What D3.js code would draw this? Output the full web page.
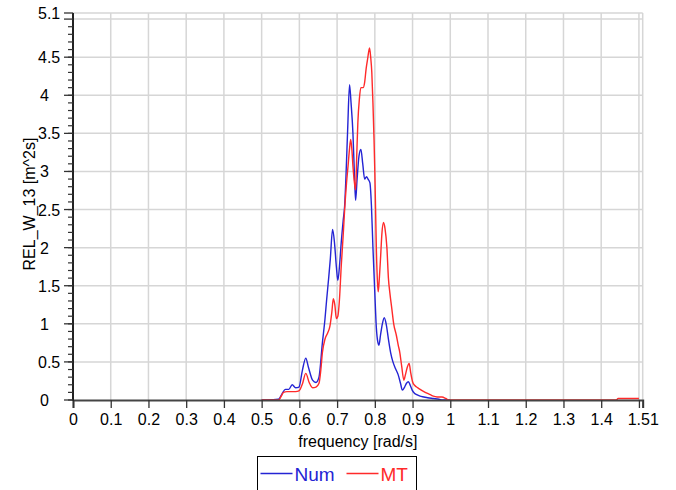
<!DOCTYPE html>
<html>
<head>
<meta charset="utf-8">
<script src="https://cdn.jsdelivr.net/npm/d3@7"></script>
<style>
  body { margin: 0; background: #fff; }
  svg { display: block; font-family: "Liberation Sans", Arial, sans-serif; }
</style>
</head>
<body>
<div class="chart"></div>
<script>
'use strict';

// Data
const numFreq = [0.50, 0.516, 0.545, 0.554, 0.563, 0.572, 0.581, 0.59, 0.599, 0.608, 0.617, 0.624, 0.635, 0.644, 0.652,
  0.661, 0.668, 0.672, 0.678, 0.682, 0.688, 0.693, 0.698, 0.702, 0.707, 0.711, 0.716, 0.72, 0.724, 0.728, 0.733, 0.737,
  0.742, 0.746, 0.749, 0.753, 0.758, 0.763, 0.768, 0.773, 0.778, 0.782, 0.787, 0.791, 0.795, 0.80, 0.804, 0.808, 0.811,
  0.815, 0.82, 0.825, 0.83, 0.836, 0.842, 0.848, 0.855, 0.862, 0.868, 0.873, 0.879, 0.884, 0.889, 0.894, 0.899, 0.905,
  0.911, 0.92, 0.93, 0.94, 0.955, 0.97, 0.98, 1.0];
const numVal = [0, 0, 0.01, 0.08, 0.14, 0.14, 0.20, 0.16, 0.17, 0.39, 0.55, 0.43, 0.26, 0.23, 0.30,
  0.75, 1.07, 1.3, 1.62, 1.85, 2.24, 2.07, 1.75, 1.57, 1.8, 2.07, 2.35, 2.55, 3.0, 3.55, 4.14, 3.9,
  3.5, 2.95, 2.62, 2.9, 3.2, 3.29, 3.1, 2.9, 2.93, 2.9, 2.85, 2.55, 2.0, 1.4, 0.95, 0.76, 0.72,
  0.85, 1.0, 1.08, 1.0, 0.8, 0.62, 0.5, 0.41, 0.33, 0.22, 0.13, 0.17, 0.22, 0.24, 0.19, 0.13, 0.09,
  0.07, 0.05, 0.04, 0.03, 0.02, 0.01, 0, 0];

const mtFreq = [0.50, 0.518, 0.545, 0.552, 0.558, 0.567, 0.58, 0.59, 0.599, 0.608, 0.617, 0.626, 0.635, 0.644, 0.652,
  0.657, 0.661, 0.668, 0.675, 0.681, 0.686, 0.69, 0.694, 0.698, 0.702, 0.706, 0.711, 0.716, 0.72, 0.725, 0.729, 0.733,
  0.736, 0.739, 0.742, 0.746, 0.749, 0.752, 0.755, 0.759, 0.763, 0.769, 0.773, 0.777, 0.781, 0.786, 0.789, 0.792, 0.795,
  0.798, 0.80, 0.802, 0.804, 0.807, 0.809, 0.812, 0.815, 0.819, 0.823, 0.827, 0.832, 0.836, 0.84, 0.845, 0.85, 0.857,
  0.862, 0.866, 0.871, 0.877, 0.881, 0.886, 0.891, 0.895, 0.9, 0.906, 0.914, 0.92, 0.93, 0.938, 0.947, 0.955, 0.965,
  0.978, 0.988, 0.995, 1.0, 1.44, 1.445, 1.5];
const mtVal = [0, 0, 0, 0.05, 0.10, 0.11, 0.11, 0.11, 0.12, 0.21, 0.35, 0.23, 0.16, 0.17, 0.22,
  0.4, 0.62, 0.8, 0.88, 0.97, 1.15, 1.33, 1.25, 1.07, 1.1, 1.3, 1.76, 2.15, 2.5, 2.85, 3.07, 3.3,
  3.42, 3.3, 3.07, 2.85, 2.76, 3.2, 3.64, 3.95, 4.1, 4.1, 4.17, 4.35, 4.48, 4.62, 4.5, 4.3, 3.9,
  3.4, 2.99, 2.5, 2.0, 1.55, 1.42, 1.6, 1.85, 2.2, 2.33, 2.25, 2.0, 1.6, 1.4, 1.2, 1.0, 0.85,
  0.72, 0.63, 0.45, 0.26, 0.33, 0.43, 0.48, 0.36, 0.24, 0.19, 0.16, 0.14, 0.11, 0.09, 0.07, 0.05, 0.04,
  0.04, 0.02, 0, 0, 0, 0.02, 0.02];

const xTicks = [0, 0.1, 0.2, 0.3, 0.4, 0.5, 0.6, 0.7, 0.8, 0.9, 1, 1.1, 1.2, 1.3, 1.4, 1.5, 1.51];
const xTickLabels = ['0', '0.1', '0.2', '0.3', '0.4', '0.5', '0.6', '0.7', '0.8', '0.9', '1', '1.1', '1.2', '1.3', '1.4', '', '1.51'];
const yTicks = [0, 0.5, 1, 1.5, 2, 2.5, 3, 3.5, 4, 4.5, 5, 5.08];
const yTickLabels = ['0', '0.5', '1', '1.5', '2', '2.5', '3', '3.5', '4', '4.5', '', '5.1'];
const seriesNames = ['Num', 'MT'];

// Layout
const w = 676;
const h = 490;
const padLeft = 73, padRight = 642.7, padTop = 13, padBottom = 400;
const blue = '#2424d4';
const red = '#ff2a2a';

const svg = d3.select('.chart')
  .append('svg')
  .attr('width', w)
  .attr('height', h);

const xScale = d3.scaleLinear().domain([0, 1.51]).range([padLeft, padRight]);
const yScale = d3.scaleLinear().domain([0, 5.08]).range([padBottom, padTop]);

// Grid
const grid = svg.append('g').attr('stroke', '#d6d6d6').attr('stroke-width', 1.5);
grid.selectAll('.gx')
  .data(xTicks.slice(1))
  .enter()
  .append('line')
  .attr('x1', d => xScale(d)).attr('x2', d => xScale(d))
  .attr('y1', padTop).attr('y2', padBottom);
grid.selectAll('.gy')
  .data(yTicks.slice(1))
  .enter()
  .append('line')
  .attr('x1', padLeft).attr('x2', padRight)
  .attr('y1', d => yScale(d)).attr('y2', d => yScale(d));

// Curves
const line = d3.line()
  .x(d => xScale(d[0]))
  .y(d => yScale(d[1]))
  .curve(d3.curveMonotoneX);

const numData = numFreq.map((f, i) => [f, numVal[i]]);
const mtData = mtFreq.map((f, i) => [f, mtVal[i]]);

svg.append('path')
  .datum(numData)
  .attr('fill', 'none')
  .attr('stroke', blue)
  .attr('stroke-width', 1.4)
  .attr('d', line);

svg.append('path')
  .datum(mtData)
  .attr('fill', 'none')
  .attr('stroke', red)
  .attr('stroke-width', 1.4)
  .attr('d', line);

// Axes
const xAxis = d3.axisBottom(xScale)
  .tickValues(xTicks)
  .tickSize(8)
  .tickFormat((d, i) => xTickLabels[i]);

const gx = svg.append('g')
  .attr('transform', `translate(0, ${padBottom})`)
  .call(xAxis);
gx.select('.domain').attr('stroke', '#444').attr('stroke-width', 2);
gx.selectAll('.tick line').attr('stroke', '#333').attr('stroke-width', 1.3);
gx.selectAll('.tick text')
  .attr('fill', '#000')
  .attr('font-size', 16)
  .attr('font-family', '"Liberation Sans", Arial, sans-serif')
  .attr('dy', '0.72em')
  .attr('y', 13);

const minorTicks = d3.range(0, 50).map(i => i / 10);
const gy = svg.append('g')
  .attr('transform', `translate(${padLeft}, 0)`);
gy.append('line')
  .attr('y1', yScale(0) + 1).attr('y2', padTop)
  .attr('stroke', '#222').attr('stroke-width', 2);
gy.selectAll('.minor')
  .data(minorTicks)
  .enter()
  .append('line')
  .attr('x1', -5).attr('x2', 0)
  .attr('y1', d => yScale(d)).attr('y2', d => yScale(d))
  .attr('stroke', '#333').attr('stroke-width', 1.2);
gy.selectAll('.major')
  .data(yTicks)
  .enter()
  .append('line')
  .attr('x1', -9).attr('x2', 0)
  .attr('y1', d => yScale(d)).attr('y2', d => yScale(d))
  .attr('stroke', '#333').attr('stroke-width', 1.3);
gy.selectAll('.ylab')
  .data(yTicks)
  .enter()
  .append('text')
  .attr('x', d => (String(d).length > 1 ? -35 : -33))
  .attr('y', d => yScale(d) + 6)
  .attr('font-size', 16)
  .attr('fill', '#000')
  .text((d, i) => yTickLabels[i]);

// Axis titles
svg.append('text')
  .attr('x', (padLeft + padRight) / 2)
  .attr('y', 447)
  .attr('text-anchor', 'middle')
  .attr('font-size', 16)
  .text('frequency [rad/s]');

svg.append('text')
  .attr('transform', 'translate(35, 204) rotate(-90)')
  .attr('text-anchor', 'middle')
  .attr('font-size', 16)
  .text('REL_W_13 [m^2s]');

// Legend
const legend = svg.append('g').attr('transform', 'translate(257.5, 456.5)');
legend.append('rect')
  .attr('width', 159)
  .attr('height', 40)
  .attr('fill', '#fff')
  .attr('stroke', '#000')
  .attr('stroke-width', 1);

const items = legend.selectAll('.item')
  .data(seriesNames)
  .enter()
  .append('g')
  .attr('transform', (d, i) => `translate(${i === 0 ? 3 : 89}, 17)`);
items.append('line')
  .attr('x1', 0).attr('x2', 32)
  .attr('stroke', (d, i) => (i === 0 ? blue : red))
  .attr('stroke-width', 1.4);
items.append('text')
  .attr('x', 34)
  .attr('y', 7)
  .attr('font-size', 19)
  .attr('fill', (d, i) => (i === 0 ? blue : red))
  .text(d => d);
</script>
</body>
</html>
